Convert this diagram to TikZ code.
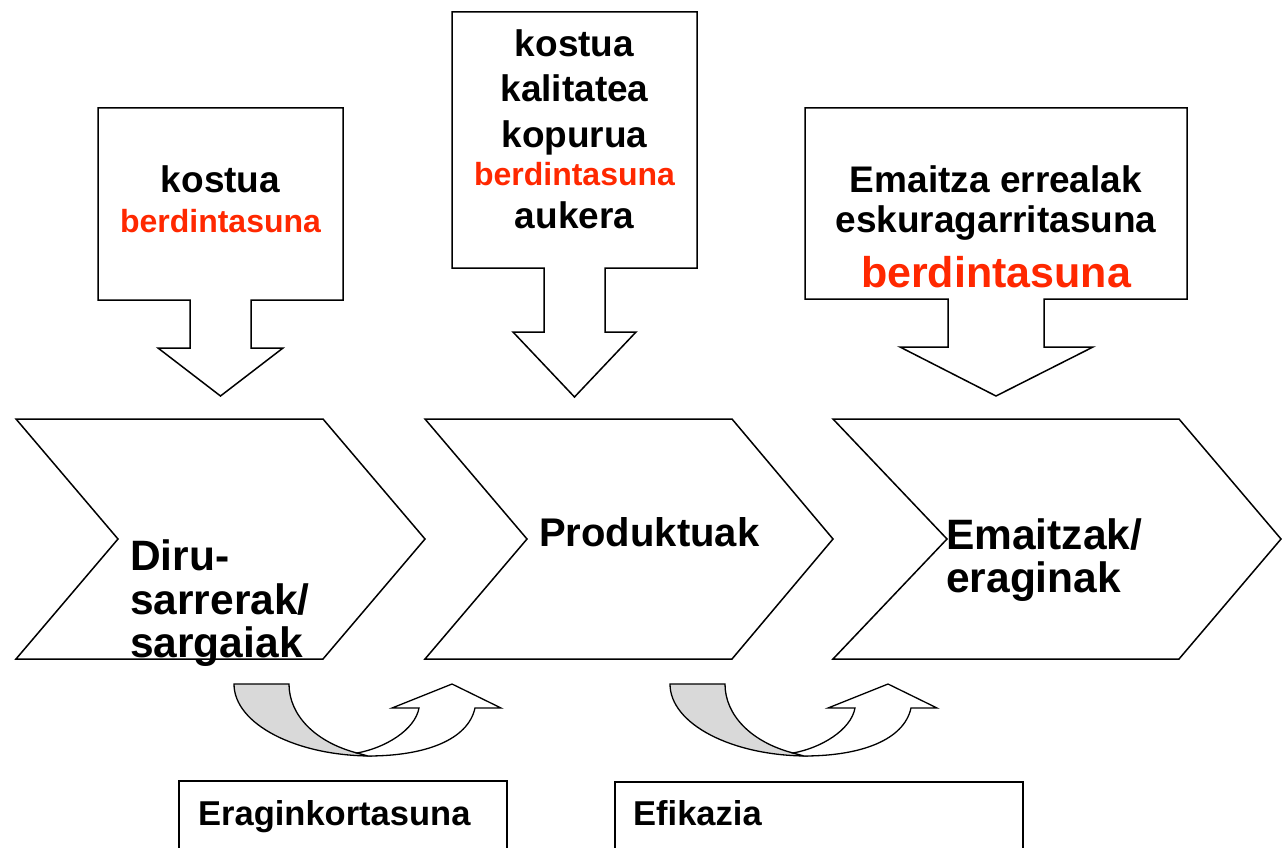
\documentclass[tikz,border=0pt]{standalone}
\usepackage{fontspec}
\setmainfont{Liberation Sans}
\definecolor{eqred}{RGB}{255,40,0}
\definecolor{curlgray}{RGB}{217,217,217}
\tikzset{
  outline/.style={draw=black, line width=1.5pt, fill=white, line join=miter},
  backside/.style={draw=black, line width=1.3pt, fill=curlgray},
  front/.style={draw=black, line width=1.3pt, fill=white},
  calltxt/.style={anchor=base, inner sep=0pt, font=\fontsize{37}{42}\selectfont\bfseries},
  redsmall/.style={anchor=base, inner sep=0pt, text=eqred, font=\fontsize{32}{36}\selectfont\bfseries},
  redbig/.style={anchor=base, inner sep=0pt, text=eqred, font=\fontsize{43}{48}\selectfont\bfseries},
  chevtxt/.style={anchor=base west, inner sep=0pt, font=\fontsize{42.5}{44}\selectfont\bfseries},
  prodtxt/.style={anchor=base west, inner sep=0pt, font=\fontsize{40}{44}\selectfont\bfseries},
  boxtxt/.style={anchor=base west, inner sep=0pt, font=\fontsize{34.5}{38}\selectfont\bfseries}
}
\begin{document}
\begin{tikzpicture}[x=1pt,y=-1pt]
\useasboundingbox (0,0) rectangle (1282,848);
\fill[white] (0,0) rectangle (1282,848);

% ---- callouts ----
\draw[outline] (98,108) -- (343,108) -- (343,300) -- (251,300) -- (251,348) -- (283,348)
  -- (220.5,396) -- (158,348) -- (190,348) -- (190,300) -- (98,300) -- cycle;
\draw[outline] (452,12) -- (697,12) -- (697,268) -- (605,268) -- (605,332) -- (636,332)
  -- (574.5,397) -- (513,332) -- (544,332) -- (544,268) -- (452,268) -- cycle;
\draw[outline] (805,108) -- (1187,108) -- (1187,299) -- (1044,299) -- (1044,347) -- (1093,347)
  -- (996,396) -- (900,347) -- (948,347) -- (948,299) -- (805,299) -- cycle;

\node[calltxt]  (c1a) at (220.5,192) {kostua};
\node[redsmall] (c1b) at (220.5,232) {berdintasuna};

\node[calltxt]  (c2a) at (574.5,57)  {kostua};
\node[calltxt]  (c2b) at (574.5,102) {kalitatea};
\node[calltxt]  (c2c) at (574.5,147) {kopurua};
\node[redsmall] (c2d) at (574.5,185) {berdintasuna};
\node[calltxt]  (c2e) at (574.5,228) {aukera};

\node[calltxt] (c3a) at (996,192) {Emaitza errealak};
\node[calltxt] (c3b) at (996,232) {eskuragarritasuna};
\node[redbig]  (c3c) at (996,287) {berdintasuna};

% ---- chevrons ----
\draw[outline] (16,419) -- (323,419) -- (425,539) -- (323,659) -- (16,659) -- (118,539) -- cycle;
\draw[outline] (425,419) -- (732,419) -- (833,539) -- (732,659) -- (425,659) -- (527,539) -- cycle;
\draw[outline] (833,419) -- (1179,419) -- (1281,539) -- (1179,659) -- (833,659) -- (947,539) -- cycle;

\node[chevtxt] (h1a) at (130,570) {Diru-};
\node[chevtxt] (h1b) at (130,614) {sarrerak/};
\node[chevtxt] (h1c) at (130,657) {sargaiak};
\node[prodtxt] (h2a) at (539,546) {Produktuak};
\node[chevtxt] (h3a) at (946,549) {Emaitzak/};
\node[chevtxt] (h3b) at (946,592) {eraginak};

% ---- curved arrows ----
\foreach \dx in {0,436}{
  \begin{scope}[shift={(\dx,0)}]
    \draw[backside] (234,684) -- (289,684) .. controls (289,715) and (315,742) .. (357,753)
      -- (372,756) .. controls (296,756) and (234,724) .. (234,684) -- cycle;
    \draw[front] (357,753) .. controls (385,748) and (415,730) .. (419,708)
      -- (392,708) -- (452,684) -- (501,708) -- (475,708)
      .. controls (468,740) and (425,756) .. (368,756) -- cycle;
  \end{scope}
}

% ---- bottom boxes ----
\draw[line width=1.5pt] (179,848) -- (179,781) -- (507,781) -- (507,848);
\draw[line width=1.5pt] (615,848) -- (615,782) -- (1023,782) -- (1023,848);
\node[boxtxt] (b1) at (198,825) {Eraginkortasuna};
\node[boxtxt] (b2) at (633,825) {Efikazia};
\end{tikzpicture}
\end{document}
